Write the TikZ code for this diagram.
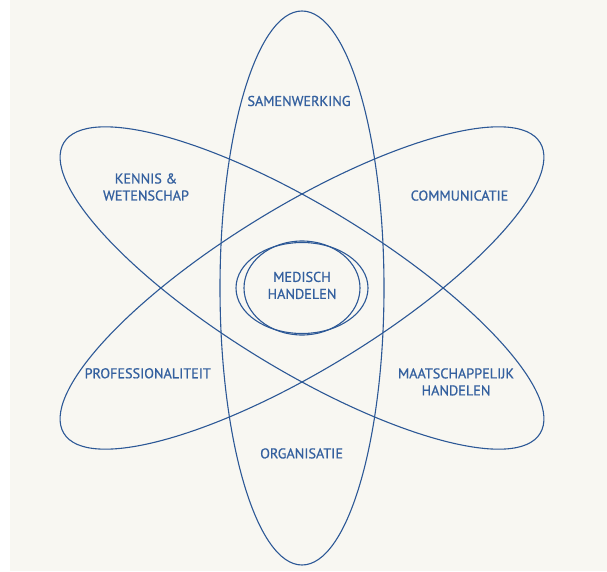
\documentclass[tikz,border=0pt]{standalone}
\usepackage{fontspec}
\setmainfont{PT Sans}
\newfontfamily\themafont{PT Sans}[RawFeature={embolden=0.7}]
\definecolor{lijn}{HTML}{2C5896}
\definecolor{tekst}{HTML}{34609F}
\definecolor{papier}{HTML}{F8F7F2}
\tikzset{
  baan/.style={draw=lijn, line width=1.1pt},
  thema/.style={text=tekst, font=\themafont\fontsize{14.2}{17}\selectfont, align=center, inner sep=0pt}
}
\begin{document}
\begin{tikzpicture}[x=1pt,y=1pt]
\fill[white] (0,0) rectangle (607,571);
\fill[papier] (10,0) rectangle (607,571);
\useasboundingbox (0,0) rectangle (607,571);

\coordinate (midden) at (302,283);

% drie banen
\draw[baan] (midden) ellipse [x radius=82, y radius=277];
\draw[baan, rotate around={58.6:(midden)}] (midden) ellipse [x radius=81.5, y radius=279];
\draw[baan, rotate around={-58.6:(midden)}] (midden) ellipse [x radius=81.5, y radius=279];

% kern
\draw[baan] (midden) ellipse [x radius=66, y radius=45.5];
\draw[baan] (midden) ellipse [x radius=58, y radius=47];

\node[thema] (samenwerking) at (299,470) {SAMENWERKING};
\node[thema] (kennis) at (146,384) {KENNIS \&\\WETENSCHAP};
\node[thema] (communicatie) at (459.5,375.4) {COMMUNICATIE};
\node[thema] (medisch) at (302,285.6) {MEDISCH\\HANDELEN};
\node[thema] (professionaliteit) at (147.7,197.7) {PROFESSIONALITEIT};
\node[thema] (maatschappelijk) at (456,189.1) {MAATSCHAPPELIJK\\HANDELEN};
\node[thema] (organisatie) at (301.6,117.6) {ORGANISATIE};

\end{tikzpicture}
\end{document}
